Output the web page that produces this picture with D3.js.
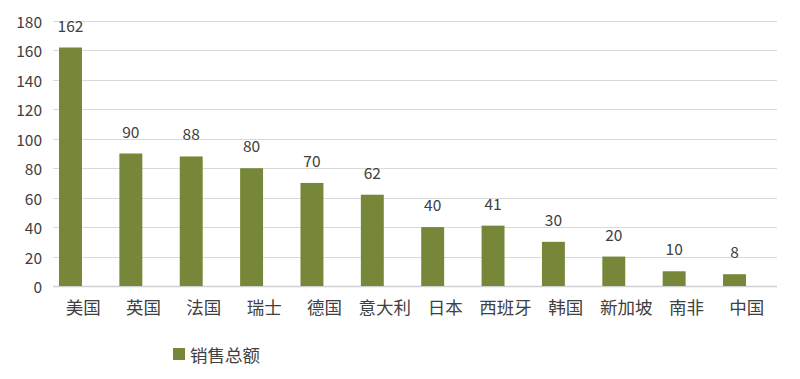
<!DOCTYPE html>
<html>
<head>
<meta charset="utf-8">
<script src="https://cdn.jsdelivr.net/npm/d3@7/dist/d3.min.js"></script>
<style>
  html, body { margin: 0; padding: 0; background: #fff; }
  svg { display: block; }
  text { font-family: "Noto Sans CJK SC", "Noto Sans", sans-serif; fill: #404040; }
</style>
</head>
<body>
<svg id="chart" width="800" height="379"></svg>
<script>
const categories = ["美国", "英国", "法国", "瑞士", "德国", "意大利", "日本", "西班牙", "韩国", "新加坡", "南非", "中国"];
const values = [162, 90, 88, 80, 70, 62, 40, 41, 30, 20, 10, 8];
const yTicks = [0, 20, 40, 60, 80, 100, 120, 140, 160, 180];
const seriesName = "销售总额";

const svg = d3.select("#chart");
const barColor = "#76873a";
const plotLeft = 53, plotRight = 777;

const y = d3.scaleLinear().domain([0, 180]).range([286, 21]);
const xCat = d3.scaleBand().domain(categories).range([plotLeft, plotRight]);
const xBar = d3.scaleBand().domain(categories).range([40.3, 764.7]).paddingInner(0.62).paddingOuter(0.31);

// gridlines
svg.append("g").selectAll("line").data(yTicks).join("line")
  .attr("x1", plotLeft).attr("x2", plotRight)
  .attr("y1", d => Math.round(y(d)) + 0.5).attr("y2", d => Math.round(y(d)) + 0.5)
  .attr("stroke", d => d === 0 ? "#d0d0d0" : "#d9d9d9")
  .attr("stroke-width", d => d === 0 ? 1.5 : 1);

// y tick labels
svg.append("g").selectAll("text").data(yTicks).join("text")
  .attr("x", 42).attr("y", d => y(d))
  .attr("text-anchor", "end").attr("dominant-baseline", "central")
  .attr("font-size", 15.5)
  .text(d => d);

// bars
svg.append("g").selectAll("rect").data(values).join("rect")
  .attr("x", (d, i) => xBar(categories[i]))
  .attr("width", xBar.bandwidth())
  .attr("y", d => y(d))
  .attr("height", d => y(0) - y(d))
  .attr("fill", barColor);

// value labels
svg.append("g").selectAll("text").data(values).join("text")
  .attr("x", (d, i) => xBar(categories[i]) + xBar.bandwidth() / 2)
  .attr("y", d => y(d) - 16)
  .attr("text-anchor", "middle")
  .attr("font-size", 15.5)
  .text(d => d);

// category labels
svg.append("g").selectAll("text").data(categories).join("text")
  .attr("x", d => xCat(d) + xCat.bandwidth() / 2)
  .attr("y", 306)
  .attr("text-anchor", "middle").attr("dominant-baseline", "central")
  .attr("font-size", 17.5)
  .text(d => d);

// legend
const lg = svg.append("g");
lg.append("rect").attr("x", 173).attr("y", 348).attr("width", 12).attr("height", 12).attr("fill", barColor);
lg.append("text").attr("x", 190).attr("y", 354).attr("dominant-baseline", "central")
  .attr("font-size", 17.5).text(seriesName);
</script>
</body>
</html>
